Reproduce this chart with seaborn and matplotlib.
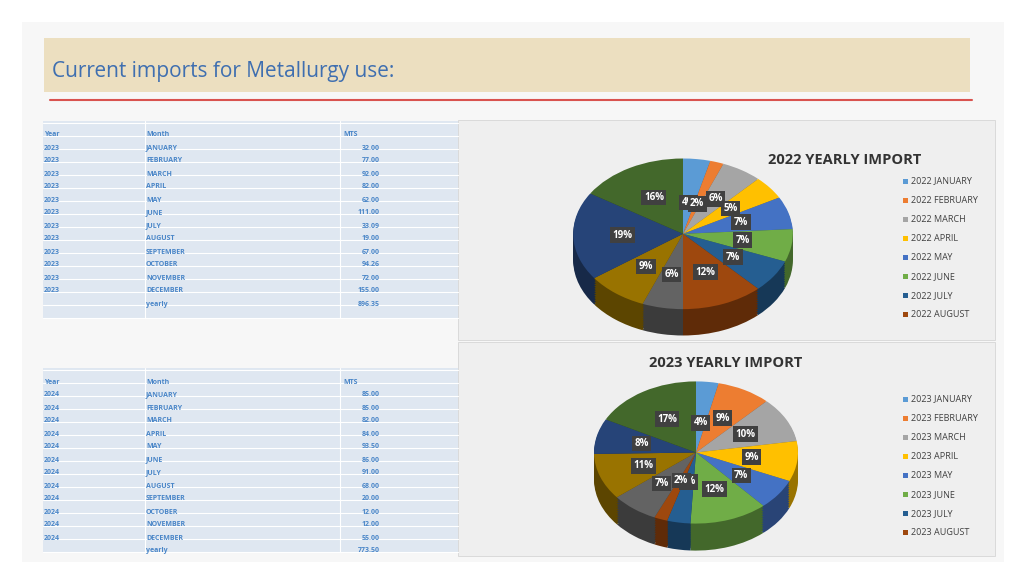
import numpy as np
import matplotlib
matplotlib.use('Agg')
from matplotlib import pyplot as plt
from matplotlib.patches import Rectangle
import matplotlib.colors as mcolors
import seaborn as sns
sns.set_theme(style='white', font='Open Sans')

months = ['JANUARY', 'FEBRUARY', 'MARCH', 'APRIL', 'MAY', 'JUNE', 'JULY',
          'AUGUST', 'SEPTEMBER', 'OCTOBER', 'NOVEMBER', 'DECEMBER']
mts_2023 = [32.00, 77.00, 92.00, 82.00, 62.00, 111.00, 33.09, 19.00, 67.00, 94.26, 72.00, 155.00]
yearly_2023 = 896.35
mts_2024 = [85.00, 85.00, 82.00, 84.00, 93.50, 86.00, 91.00, 68.00, 20.00, 12.00, 12.00, 55.00]
yearly_2024 = 773.50
pct_2022 = [4, 2, 6, 5, 7, 7, 7, 12, 6, 9, 19, 16]
legend_months = months[:8]

colors = sns.color_palette(['#5B9BD5', '#ED7D31', '#A5A5A5', '#FFC000', '#4472C4', '#70AD47',
                            '#255E91', '#9E480E', '#636363', '#997300', '#264478', '#43682B'])

W, H = 1024, 576
fig = plt.figure(figsize=(W / 100, H / 100), dpi=100)
fig.patch.set_facecolor('white')
bg = fig.add_axes([0, 0, 1, 1])
bg.set_xlim(0, W)
bg.set_ylim(H, 0)
bg.axis('off')

# slide frame and header
bg.add_patch(Rectangle((22, 22), 982, 540, facecolor='#f7f7f7', edgecolor='none'))
bg.add_patch(Rectangle((44, 38), 926, 54, facecolor='#ecdfc0', edgecolor='none'))
bg.text(52, 72, 'Current imports for Metallurgy use:', fontsize=15, color='#3f6fb0', va='center')
bg.plot([50, 972], [100, 100], color='#d9534f', lw=1.5)

# tables
txt = '#4a86c8'


def draw_table(y0, year, values, yearly, nrows):
    y_end = y0 - 6 + (nrows - 1) * 13
    bg.add_patch(Rectangle((43, y0 - 8), 415, y_end - y0 + 8, facecolor='#dfe7f1', edgecolor='none'))
    for i in range(nrows):
        bg.plot([43, 458], [y0 - 6 + i * 13, y0 - 6 + i * 13], color='white', lw=0.8)
    for x in (145, 340):
        bg.plot([x, x], [y0 - 8, y_end], color='white', lw=0.8)
    kw = dict(fontsize=5, color=txt, va='center', weight='bold')
    bg.text(44, y0 + 6, 'Year', **kw)
    bg.text(146, y0 + 6, 'Month', **kw)
    bg.text(343, y0 + 6, 'MTS', **kw)
    for i, (m, v) in enumerate(zip(months, values)):
        y = y0 + 6 + (i + 1) * 13
        bg.text(44, y, str(year), **kw)
        bg.text(146, y, m, **kw)
        bg.text(380, y, f'{v:.2f}', ha='right', **kw)
    y = y0 + 6 + 13 * 13
    bg.text(146, y, 'yearly', **kw)
    bg.text(380, y, f'{yearly:.2f}', ha='right', **kw)


draw_table(129, 2023, mts_2023, yearly_2023, 16)
draw_table(376, 2024, mts_2024, yearly_2024, 15)

# chart panels
bg.add_patch(Rectangle((458, 120), 537, 220, facecolor='#efefef', edgecolor='#d0d0d0', lw=0.5))
bg.add_patch(Rectangle((458, 342), 537, 214, facecolor='#efefef', edgecolor='#d0d0d0', lw=0.5))


def fax(x0, y0, x1, y1):
    return fig.add_axes([x0 / W, 1 - y1 / H, (x1 - x0) / W, (y1 - y0) / H])


def pie3d(box, values, labels, depth=0.35):
    ax = fax(*box)
    dark = [tuple(np.array(mcolors.to_rgb(c)) * 0.6) for c in colors]
    for k in np.linspace(depth, 0.02, 12):
        ax.pie(values, colors=dark, startangle=90, counterclock=False, center=(0, -k),
               radius=1, wedgeprops=dict(linewidth=0))
    ax.pie(values, colors=colors, startangle=90, counterclock=False, radius=1,
           wedgeprops=dict(linewidth=0))
    ax.set_aspect('auto')
    ax.set_xlim(-1.02, 1.02)
    ax.set_ylim(-1.02 - depth, 1.02)
    ax.axis('off')
    tot = sum(values)
    ang = 90.0
    for v, lab in zip(values, labels):
        a = np.deg2rad(ang - 360 * v / tot / 2)
        ang -= 360 * v / tot
        r = 0.55 if v / tot > 0.045 else 0.42
        ax.text(r * np.cos(a), r * np.sin(a), lab, fontsize=7, color='white', weight='bold',
                ha='center', va='center',
                bbox=dict(boxstyle='square,pad=0.25', facecolor='#404040', edgecolor='none'))
    return ax


pie3d((571, 157, 795, 337), pct_2022, [f'{p}%' for p in pct_2022])
tot23 = sum(mts_2023)
pie3d((592, 380, 800, 552), mts_2023, [f'{v / tot23 * 100:.0f}%' for v in mts_2023], depth=0.38)

bg.text(845, 160, '2022 YEARLY IMPORT', fontsize=10.5, weight='bold', color='#333333',
        ha='center', va='center')
bg.text(726, 363, '2023 YEARLY IMPORT', fontsize=10.5, weight='bold', color='#333333',
        ha='center', va='center')

for j, m in enumerate(legend_months):
    for yy, yr in ((181, 2022), (399, 2023)):
        y = yy + j * 19.1
        bg.add_patch(Rectangle((903, y - 2.5), 5, 5, facecolor=colors[j], edgecolor='none'))
        bg.text(911, y, f'{yr} {m}', fontsize=6.5, color='#404040', va='center')

fig.savefig('out.png', dpi=100)
